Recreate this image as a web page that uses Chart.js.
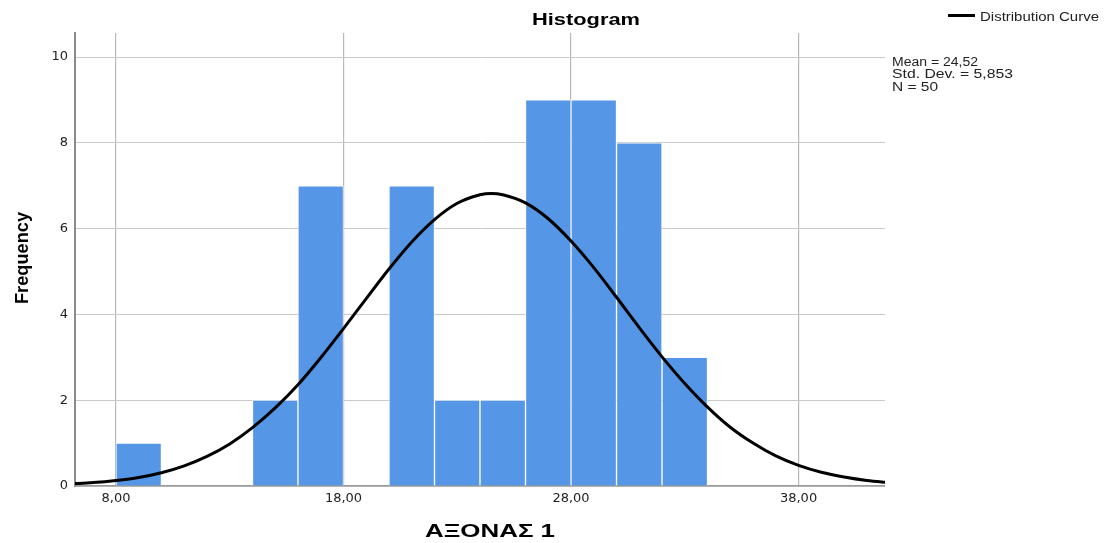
<!DOCTYPE html>
<html>
<head>
<meta charset="utf-8">
<script src="https://cdn.jsdelivr.net/npm/chart.js@4.4.1/dist/chart.umd.min.js"></script>
<style>
  html, body { margin: 0; padding: 0; background: #fff; }
  #wrap { width: 1104px; height: 543px; position: relative; }
</style>
</head>
<body>
<div id="wrap"><canvas id="histChart"></canvas></div>
<script>
// histogram bins (centre of each 2-unit bin) and counts
const binCenters = [9, 15, 17, 21, 23, 25, 27, 29, 31, 33];
const frequencies = [1, 2, 7, 7, 2, 2, 9, 9, 8, 3];

// distribution curve
const curveX = [6, 7, 8, 9, 10, 11, 12, 13, 14, 15, 16, 17, 18, 19, 20, 21, 22, 23, 24, 24.5,
  25, 26, 27, 28, 29, 30, 31, 32, 33, 34, 35, 36, 37, 38, 39, 40, 41, 42];
const curveY = [0.05, 0.08, 0.13, 0.20, 0.31, 0.47, 0.69, 0.98, 1.36, 1.82, 2.36, 2.99, 3.67, 4.37, 5.06, 5.69, 6.21, 6.59, 6.79, 6.82,
  6.79, 6.60, 6.23, 5.71, 5.09, 4.40, 3.69, 3.01, 2.39, 1.84, 1.37, 1.00, 0.70, 0.48, 0.32, 0.21, 0.13, 0.08];

const xTicks = [8, 18, 28, 38];
const yTicks = [0, 2, 4, 6, 8, 10];

const statMean = 24.52;
const statSd = 5.853;
const statN = 50;

const chartTitle = 'Histogram';
const xTitle = 'ΑΞΟΝΑΣ 1';
const yTitle = 'Frequency';
const curveLabel = 'Distribution Curve';

function comma(v, d) {
  return v.toFixed(d).replace('.', ',');
}

// draws text squeezed/stretched to a given width (the reference fonts are wide)
function fitText(c, text, x, y, font, w, align) {
  c.font = font;
  const m = c.measureText(text).width;
  c.save();
  c.translate(x, y);
  c.scale(w / m, 1);
  c.textAlign = align;
  c.textBaseline = 'alphabetic';
  c.fillText(text, 0, 0);
  c.restore();
}

/* textos de titulo, legenda e estatisticas */
const extras = {
  id: 'extras',
  afterDraw(chart) {
    const c = chart.ctx;
    c.save();
    c.fillStyle = '#000';
    fitText(c, chartTitle, 586, 25, 'bold 17px "Liberation Sans", Arial', 108, 'center');
    fitText(c, xTitle, 490, 537, 'bold 18px "Liberation Sans", Arial', 130, 'center');

    c.save();
    c.translate(28, 258);
    c.rotate(-Math.PI / 2);
    fitText(c, yTitle, 0, 0, 'bold 18px "Liberation Sans", Arial', 92, 'center');
    c.restore();

    // legenda
    c.strokeStyle = '#000';
    c.lineWidth = 3;
    c.beginPath();
    c.moveTo(948, 15.5);
    c.lineTo(975, 15.5);
    c.stroke();
    c.fillStyle = '#222';
    fitText(c, curveLabel, 980, 21, '13px "Liberation Sans", Arial', 119, 'left');

    // estatisticas
    fitText(c, 'Mean = ' + comma(statMean, 2), 892, 66, '12px "Liberation Sans", Arial', 86, 'left');
    fitText(c, 'Std. Dev. = ' + comma(statSd, 3), 892, 78, '12px "Liberation Sans", Arial', 121, 'left');
    fitText(c, 'N = ' + statN, 892, 91, '12px "Liberation Sans", Arial', 46, 'left');
    c.restore();
  }
};

const ctx = document.getElementById('histChart');

new Chart(ctx, {
  data: {
    datasets: [
      {
        type: 'line',
        label: curveLabel,
        data: curveX.map((x, i) => ({ x: x, y: curveY[i] })),
        borderColor: '#000',
        borderWidth: 3,
        pointRadius: 0,
        cubicInterpolationMode: 'monotone',
        order: 0
      },
      {
        type: 'bar',
        label: 'Frequency',
        data: binCenters.map((x, i) => ({ x: x, y: frequencies[i] })),
        backgroundColor: '#5596E6',
        borderColor: 'rgba(255,255,255,0.65)',
        borderWidth: 1,
        barPercentage: 1,
        categoryPercentage: 1,
        order: 1
      }
    ]
  },
  options: {
    responsive: true,
    maintainAspectRatio: false,
    animation: false,
    layout: { padding: { top: 33, right: 219, left: 0, bottom: 0 } },
    plugins: {
      legend: { display: false },
      title: { display: false },
      tooltip: { enabled: false }
    },
    scales: {
      x: {
        type: 'linear',
        min: 6.2,
        max: 41.8,
        offset: false,
        afterBuildTicks: axis => { axis.ticks = xTicks.map(v => ({ value: v })); },
        afterFit: axis => { axis.height = 57; },
        ticks: {
          padding: 5,
          color: '#222',
          font: { family: 'DejaVu Sans', size: 13 },
          callback: v => comma(v, 2)
        },
        grid: { color: '#b8b8b8', lineWidth: 1.2, drawTicks: false, offset: false },
        border: { color: '#9a9a9a', width: 1.5 }
      },
      y: {
        min: 0,
        max: 10.56,
        afterBuildTicks: axis => { axis.ticks = yTicks.map(v => ({ value: v })); },
        afterFit: axis => { axis.width = 75; },
        ticks: {
          padding: 7,
          color: '#222',
          font: { family: 'DejaVu Sans', size: 13 }
        },
        grid: { color: '#cacaca', lineWidth: 1, drawTicks: false },
        border: { color: '#8c8c8c', width: 2 }
      }
    }
  },
  plugins: [extras]
});
</script>
</body>
</html>
